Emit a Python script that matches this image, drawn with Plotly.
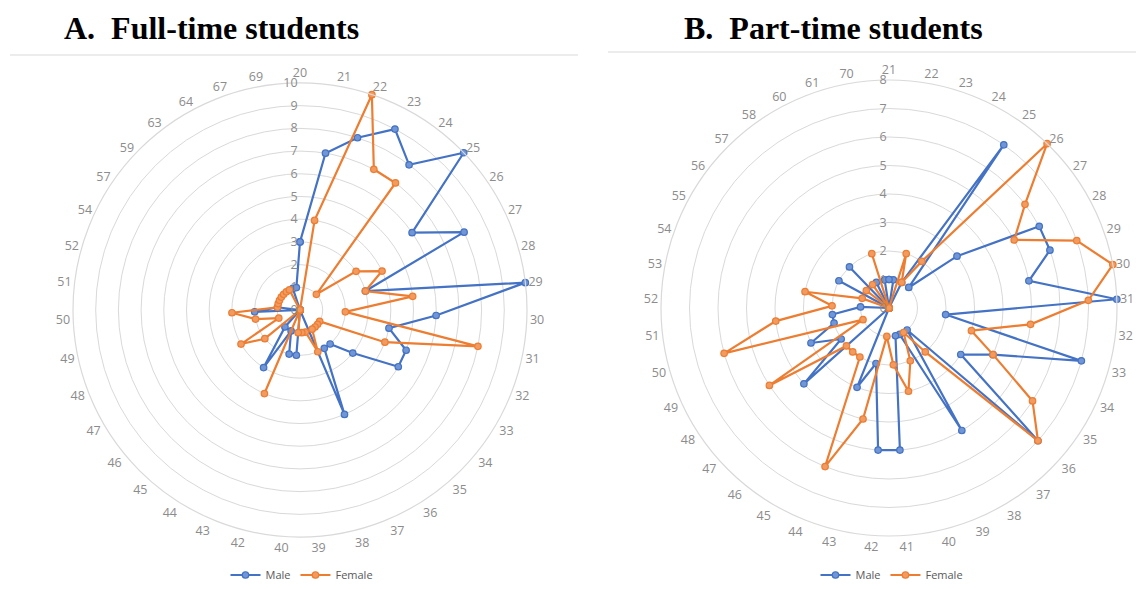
import plotly.graph_objects as go

# ---------------- data ----------------
cats_a = ['20', '21', '22', '23', '24', '25', '26', '27', '28', '29', '30', '31', '32', '33', '34',
          '35', '36', '37', '38', '39', '40', '42', '43', '44', '45', '46', '47', '48', '49', '50',
          '51', '52', '54', '57', '59', '63', '64', '67', '69']
male_a = [3, 7, 8, 9, 8, 10, 6, 8, 3, 10, 6, 4, 5, 5, 3,
          2, 2, 5, 0, 0, 2, 2, 1, 3, 1, 0, 0, 0, 0, 2,
          1, 0, 0, 0, 0, 0, 0, 1, 1]
female_a = [0, 4, 10, 7, 7, 1, 3, 4, 3, 5, 2, 8, 4, 1, 1,
            1, 1, 2, 1, 1, 1, 0, 4, 0, 0, 2, 3, 1, 2, 3,
            1, 1, 1, 1, 1, 1, 1, 0, 0]

cats_b = ['21', '22', '23', '24', '25', '26', '27', '28', '29', '30', '31', '32', '33', '34', '35',
          '36', '37', '38', '39', '40', '41', '42', '43', '44', '45', '46', '47', '48', '49', '50',
          '51', '52', '53', '54', '55', '56', '57', '58', '60', '61', '70']
male_b = [1, 1, 0, 1, 7, 1, 3, 6, 6, 5, 8, 2, 7, 4, 3,
          7, 1, 5, 1, 1, 5, 5, 2, 3, 0, 0, 4, 2, 3, 2,
          2, 1, 0, 0, 2, 0, 2, 0, 1, 0, 1]
female_b = [0, 0, 2, 1, 2, 8, 6, 5, 7, 8, 7, 5, 3, 4, 6,
            7, 2, 1, 2, 3, 2, 1, 4, 6, 2, 2, 2, 5, 1, 6,
            4, 2, 3, 1, 0, 1, 0, 1, 0, 2, 0]

titles = ['A.  Full-time students', 'B.  Part-time students']
series_names = ['Male', 'Female']

BLUE = '#4472C4'
ORANGE = '#ED7D31'
BLUE_FILL = '#7096D6'
ORANGE_FILL = '#F29B60'
GRID = '#d9d9d9'
TICK = '#8c8c8c'

fig = go.Figure()


def closed(cats, vals):
    return list(vals) + [vals[0]], list(cats) + [cats[0]]


for subplot, legend, cats, m, f in [('polar', 'legend', cats_a, male_a, female_a),
                                      ('polar2', 'legend2', cats_b, male_b, female_b)]:
    for name, vals, col, fill in [(series_names[0], m, BLUE, BLUE_FILL),
                                  (series_names[1], f, ORANGE, ORANGE_FILL)]:
        r, th = closed(cats, vals)
        fig.add_trace(go.Scatterpolar(
            r=r, theta=th, name=name, mode='lines+markers', subplot=subplot, legend=legend,
            line=dict(color=col, width=2.2),
            marker=dict(symbol='circle', size=6.5, color=fill, line=dict(color=col, width=1.2)),
        ))


def polar_layout(cats, rmax, xd, yd):
    return dict(
        domain=dict(x=xd, y=yd),
        bgcolor='white',
        angularaxis=dict(
            type='category', categoryorder='array', categoryarray=cats,
            rotation=90, direction='clockwise',
            showgrid=False, showline=True, linecolor=GRID, linewidth=1.2,
            ticks='', tickfont=dict(family='Open Sans, Arial', size=12.5, color=TICK),
        ),
        radialaxis=dict(
            range=[0, rmax], tickvals=list(range(0, rmax + 1)), angle=90, tickangle=90,
            side='counterclockwise', showline=False, ticks='',
            gridcolor=GRID, gridwidth=1.2,
            tickfont=dict(family='Open Sans, Arial', size=12.5, color=TICK),
        ),
        gridshape='circular',
    )


W, H = 1144, 589
OFF = 8  # page body margin
# A: center (300,310), R=227 ; B: center (889,308), R=228  (page pixels)
ca, ra = (300 - OFF, 310 - OFF), 227
cb, rb = (889 - OFF, 308 - OFF), 228


def px(x):
    return (x - OFF) / W


def py(y):
    return 1 - (y - OFF) / H


fig.update_layout(
    width=W, height=H,
    margin=dict(l=0, r=0, t=0, b=0),
    paper_bgcolor='white', plot_bgcolor='white',
    polar=polar_layout(cats_a, 10,
                       [(ca[0] - ra) / W, (ca[0] + ra) / W],
                       [(H - ca[1] - ra) / H, (H - ca[1] + ra) / H]),
    polar2=polar_layout(cats_b, 8,
                        [(cb[0] - rb) / W, (cb[0] + rb) / W],
                        [(H - cb[1] - rb) / H, (H - cb[1] + rb) / H]),
    legend=dict(orientation='h', x=px(302), y=py(575), xanchor='center', yanchor='middle',
                font=dict(family='Open Sans, Arial', size=11, color='#595959'),
                bgcolor='rgba(0,0,0,0)', itemwidth=30),
    legend2=dict(orientation='h', x=px(892), y=py(575), xanchor='center', yanchor='middle',
                 font=dict(family='Open Sans, Arial', size=11, color='#595959'),
                 bgcolor='rgba(0,0,0,0)', itemwidth=30),
    annotations=[
        dict(text='<b>' + titles[0] + '</b>', x=px(211), y=py(28), xref='paper', yref='paper',
             showarrow=False, xanchor='center', yanchor='middle',
             font=dict(family='Liberation Serif, Times New Roman', size=32, color='black')),
        dict(text='<b>' + titles[1] + '</b>', x=px(834), y=py(28), xref='paper', yref='paper',
             showarrow=False, xanchor='center', yanchor='middle',
             font=dict(family='Liberation Serif, Times New Roman', size=32, color='black')),
    ],
    shapes=[
        dict(type='line', xref='paper', yref='paper', x0=px(10), x1=px(578),
             y0=py(55), y1=py(55), line=dict(color='#d9d9d9', width=1.2)),
        dict(type='line', xref='paper', yref='paper', x0=px(608), x1=px(1142),
             y0=py(52), y1=py(52), line=dict(color='#d9d9d9', width=1.2)),
    ],
)

fig.write_html('out.html')
